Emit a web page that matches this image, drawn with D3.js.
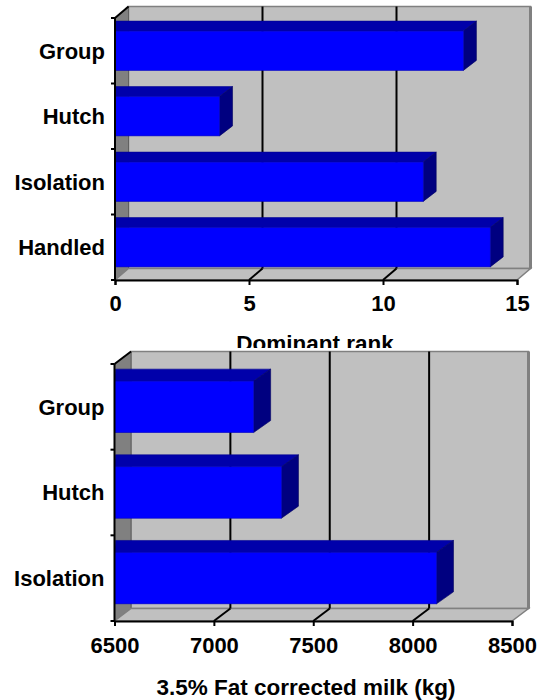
<!DOCTYPE html>
<html>
<head>
<meta charset="utf-8">
<script src="https://cdn.jsdelivr.net/npm/d3@7"></script>
<style>
  html, body { margin: 0; padding: 0; background: #fff; }
  svg { display: block; }
</style>
</head>
<body>
<div id="chart"></div>
<script>
// two stacked 3-D bar charts (Excel style)
const topCategories = ['Group', 'Hutch', 'Isolation', 'Handled'];
const topValues = [13, 3.9, 11.5, 14];
const topTicks = [0, 5, 10, 15];
const topTitle = 'Dominant rank';

const bottomCategories = ['Group', 'Hutch', 'Isolation'];
const bottomValues = [7200, 7340, 8120];
const bottomTicks = [6500, 7000, 7500, 8000, 8500];
const bottomTitle = '3.5% Fat corrected milk (kg)';

const W = 541, H = 700;
const FONT = 'Arial, "Liberation Sans", sans-serif';

const svg = d3.select('#chart').append('svg').attr('width', W).attr('height', H);
svg.append('rect').attr('width', W).attr('height', H).attr('fill', '#fff');

function pts(arr) { return arr.map(p => p.join(',')).join(' '); }

function drawChart(cfg) {
  const g = svg.append('g');
  if (cfg.bgTop != null) {
    g.append('rect').attr('x', 0).attr('y', cfg.bgTop).attr('width', W).attr('height', H - cfg.bgTop).attr('fill', '#fff');
  }
  const [x0, x1] = cfg.xRange;
  const [yT, yB] = cfg.yRange;
  const dx = cfg.depth[0], dy = cfg.depth[1];
  const x = d3.scaleLinear().domain([cfg.ticks[0], cfg.ticks[cfg.ticks.length - 1]]).range([x0, x1]);
  const y = d3.scaleBand().domain(cfg.categories).range([yT, yB]).paddingInner(0.4).paddingOuter(0.2);

  // back wall
  g.append('rect')
    .attr('x', x0 + dx).attr('y', yT - dy)
    .attr('width', x1 - x0).attr('height', yB - yT)
    .attr('fill', '#c0c0c0').attr('stroke', '#808080').attr('stroke-width', 1.5);
  g.append('line')
    .attr('x1', x1 + dx).attr('x2', x1 + dx).attr('y1', yT - dy).attr('y2', yB - dy)
    .attr('stroke', '#808080').attr('stroke-width', 3);
  // left wall
  g.append('polygon')
    .attr('points', pts([[x0, yT], [x0 + dx, yT - dy], [x0 + dx, yB - dy], [x0, yB]]))
    .attr('fill', '#808080').attr('stroke', '#606060').attr('stroke-width', 1);
  // floor
  g.append('polygon')
    .attr('points', pts([[x0, yB], [x1, yB], [x1 + dx, yB - dy], [x0 + dx, yB - dy]]))
    .attr('fill', '#c0c0c0').attr('stroke', '#808080').attr('stroke-width', 1.5);

  // gridlines (back wall + floor)
  const inner = cfg.ticks.slice(1, -1);
  g.selectAll('.grid').data(inner).enter().append('line')
    .attr('x1', d => x(d) + dx).attr('x2', d => x(d) + dx)
    .attr('y1', yT - dy).attr('y2', yB - dy)
    .attr('stroke', '#000').attr('stroke-width', 2);
  g.selectAll('.floorgrid').data(inner).enter().append('line')
    .attr('x1', d => x(d)).attr('y1', yB)
    .attr('x2', d => x(d) + dx).attr('y2', yB - dy)
    .attr('stroke', '#000').attr('stroke-width', 2);

  // bars
  const bdx = cfg.barDepth[0], bdy = cfg.barDepth[1];
  const bars = g.selectAll('.bar').data(cfg.values).enter().append('g');
  bars.append('polygon') // top face
    .attr('points', (d, i) => {
      const yy = y(cfg.categories[i]);
      return pts([[x0, yy], [x(d), yy], [x(d) + bdx, yy - bdy], [x0 + 1, yy - bdy]]);
    })
    .attr('fill', '#0000aa').attr('stroke', '#000090').attr('stroke-width', 0.6);
  bars.append('polygon') // side face
    .attr('points', (d, i) => {
      const yy = y(cfg.categories[i]);
      return pts([[x(d), yy], [x(d) + bdx, yy - bdy], [x(d) + bdx, yy + y.bandwidth() - bdy], [x(d), yy + y.bandwidth()]]);
    })
    .attr('fill', '#000080').attr('stroke', '#000060').attr('stroke-width', 0.6);
  bars.append('rect') // front face
    .attr('x', x0)
    .attr('y', (d, i) => y(cfg.categories[i]))
    .attr('width', d => x(d) - x0)
    .attr('height', y.bandwidth())
    .attr('fill', '#0000ff').attr('stroke', '#0000c0').attr('stroke-width', 0.6);

  // axes
  g.append('line').attr('x1', x0).attr('x2', x0 + dx).attr('y1', yT).attr('y2', yT - dy)
    .attr('stroke', '#000').attr('stroke-width', 2);
  g.append('line').attr('x1', x0).attr('x2', x0).attr('y1', yT).attr('y2', yB)
    .attr('stroke', '#000').attr('stroke-width', 2);
  const bounds = d3.range(cfg.categories.length + 1).map(i => yT + i * y.step());
  g.selectAll('.ytick').data(bounds).enter().append('line')
    .attr('x1', x0 - 4).attr('x2', x0).attr('y1', d => d).attr('y2', d => d)
    .attr('stroke', '#000').attr('stroke-width', 2);
  g.selectAll('.ylab').data(cfg.categories).enter().append('text')
    .attr('x', x0 - 10)
    .attr('y', d => y(d) + y.bandwidth() / 2)
    .attr('dy', '0.36em')
    .attr('text-anchor', 'end')
    .style('font-family', FONT).style('font-weight', 'bold').style('font-size', '22px')
    .text(d => d);

  const ax = g.append('g').attr('transform', `translate(0,${yB})`)
    .call(d3.axisBottom(x).tickValues(cfg.ticks).tickSize(5).tickSizeOuter(5).tickPadding(cfg.tickPad).tickFormat(d3.format('d')));
  ax.select('.domain').attr('stroke', '#000').attr('stroke-width', 2);
  ax.selectAll('.tick line').attr('stroke', '#000').attr('stroke-width', 2);
  ax.selectAll('.tick text')
    .style('font-family', FONT).style('font-weight', 'bold').style('font-size', '22px').attr('fill', '#000');

  return x;
}

drawChart({
  categories: topCategories, values: topValues, ticks: topTicks,
  xRange: [115, 517], yRange: [18, 280], depth: [13.5, 11.5], barDepth: [13, 10], tickPad: 10
});
svg.append('text').attr('x', 315).attr('y', 351).attr('text-anchor', 'middle')
  .style('font-family', FONT).style('font-weight', 'bold').style('font-size', '22.5px')
  .text(topTitle);

drawChart({
  categories: bottomCategories, values: bottomValues, ticks: bottomTicks, bgTop: 348,
  xRange: [114.5, 512], yRange: [364, 621], depth: [16.5, 12.5], barDepth: [17, 12], tickPad: 11
});
svg.append('text').attr('x', 306).attr('y', 695).attr('text-anchor', 'middle')
  .style('font-family', FONT).style('font-weight', 'bold').style('font-size', '22.5px')
  .text(bottomTitle);
</script>
</body>
</html>
